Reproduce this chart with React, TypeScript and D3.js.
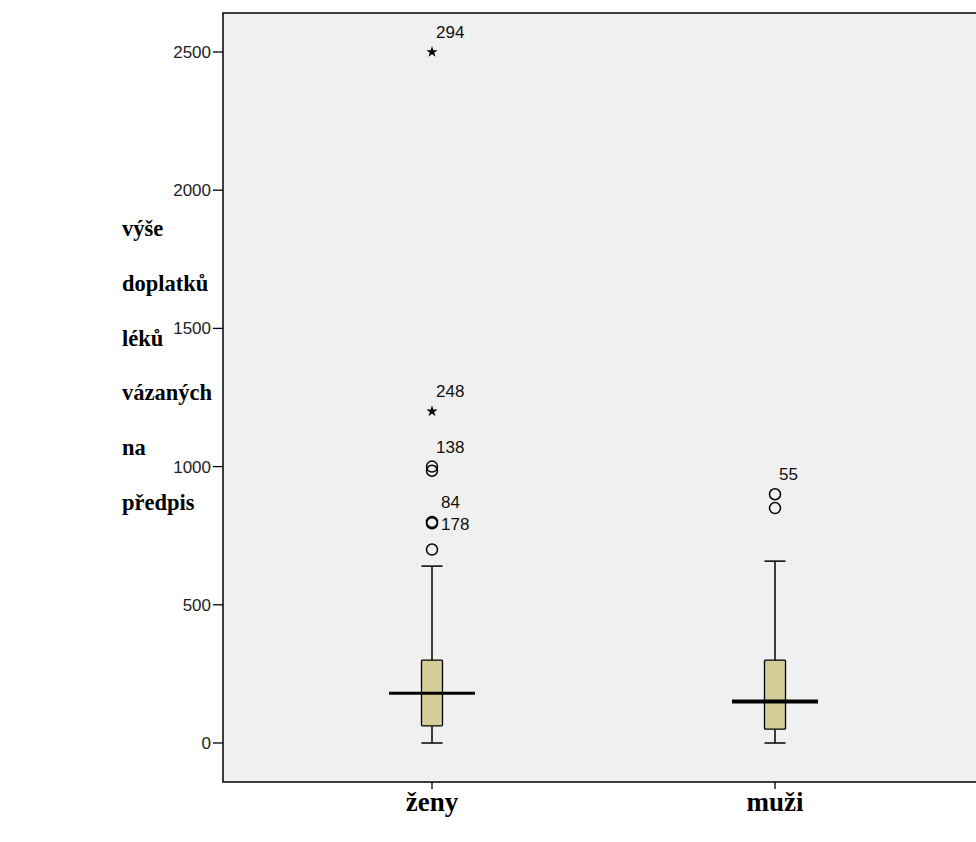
import React from 'react';
import * as d3 from 'd3';

// box plot data
const groups = ['ženy', 'muži'];
const minVals = [0, 0];
const q1Vals = [62, 50];
const medians = [180, 150];
const q3Vals = [300, 300];
const maxVals = [640, 658];

// outliers: group index, value, case label, type
const outGroup = [0, 0, 0, 0, 0, 0, 0, 1, 1];
const outValue = [2500, 1200, 1000, 985, 800, 795, 700, 900, 850];
const outLabel = ['294', '248', '138', '', '84', '178', '', '55', ''];
const outType = ['star', 'star', 'circle', 'circle', 'circle', 'circle', 'circle', 'circle', 'circle'];

const yTicks = [0, 500, 1000, 1500, 2000, 2500];
const yTitle = ['výše', 'doplatků', 'léků', 'vázaných', 'na', 'předpis'];

const W = 976, H = 842;
const plot = { left: 223, top: 13, right: 990, bottom: 782 };
const sans = "Arial, 'Liberation Sans', sans-serif";
const serif = "'Liberation Serif', 'Times New Roman', serif";

export default function App() {
  const y = d3.scaleLinear().domain([0, 2500]).range([743, 52]);
  const x = d3.scalePoint().domain(groups).range([432, 775]);

  const boxW = 21;
  const capW = 21;
  const star = d3.symbol().type(d3.symbolStar).size(40)();

  return (
    <svg width={W} height={H} style={{ position: 'absolute', left: 0, top: 0, background: '#fff' }}>
      <rect x={plot.left} y={plot.top} width={plot.right - plot.left} height={plot.bottom - plot.top}
        fill="#f0f0f0" stroke="#000" strokeWidth={1.5} />

      {/* y axis ticks */}
      {yTicks.map(t => (
        <g key={t} transform={`translate(0,${y(t)})`}>
          <line x1={plot.left - 10} x2={plot.left} stroke="#000" strokeWidth={1.3} />
          <text x={plot.left - 12} dy="0.35em" textAnchor="end" fontFamily={sans}
            fontSize={17} fill="#222">{t}</text>
        </g>
      ))}

      {/* x axis ticks */}
      {groups.map(g => (
        <g key={g}>
          <line x1={x(g)} x2={x(g)} y1={plot.bottom} y2={plot.bottom + 7} stroke="#000" strokeWidth={1.3} />
          <text x={x(g)} y={811} textAnchor="middle" fontFamily={serif}
            fontWeight="bold" fontSize={27} fill="#000">{g}</text>
        </g>
      ))}

      {/* y title */}
      {yTitle.map((w, i) => (
        <text key={w} x={122} y={236 + i * 54.8} fontFamily={serif}
          fontWeight="bold" fontSize={22.5} fill="#000">{w}</text>
      ))}

      {/* boxes */}
      {groups.map((g, i) => {
        const cx = x(g) as number;
        return (
          <g key={g}>
            <line x1={cx} x2={cx} y1={y(q3Vals[i])} y2={y(maxVals[i])} stroke="#000" strokeWidth={1.5} />
            <line x1={cx} x2={cx} y1={y(q1Vals[i])} y2={y(minVals[i])} stroke="#000" strokeWidth={1.5} />
            <line x1={cx - capW / 2} x2={cx + capW / 2} y1={y(maxVals[i])} y2={y(maxVals[i])} stroke="#000" strokeWidth={1.5} />
            <line x1={cx - capW / 2} x2={cx + capW / 2} y1={y(minVals[i])} y2={y(minVals[i])} stroke="#000" strokeWidth={1.5} />
            <rect x={cx - boxW / 2} y={y(q3Vals[i])} width={boxW} height={y(q1Vals[i]) - y(q3Vals[i])}
              rx={1} fill="#d3ce97" stroke="#000" strokeWidth={1.3} />
            <line x1={cx - 43} x2={cx + 43} y1={y(medians[i])} y2={y(medians[i])} stroke="#000"
              strokeWidth={i === 0 ? 3 : 4} />
          </g>
        );
      })}

      {/* outliers */}
      {outValue.map((v, i) => {
        const cx = x(groups[outGroup[i]]) as number;
        const cy = y(v);
        return (
          <g key={i}>
            {outType[i] === 'star'
              ? <path d={star} transform={`translate(${cx},${cy})`} fill="#000" />
              : <circle cx={cx} cy={cy} r={5.5} fill="none" stroke="#000" strokeWidth={1.5} />}
            {outLabel[i] && (
              <text x={cx + (i === 4 || i === 5 ? 9 : 4)} y={cy - (i === 5 ? -7 : 14)} fontFamily={sans}
                fontSize={17} fill="#111">{outLabel[i]}</text>
            )}
          </g>
        );
      })}
    </svg>
  );
}
